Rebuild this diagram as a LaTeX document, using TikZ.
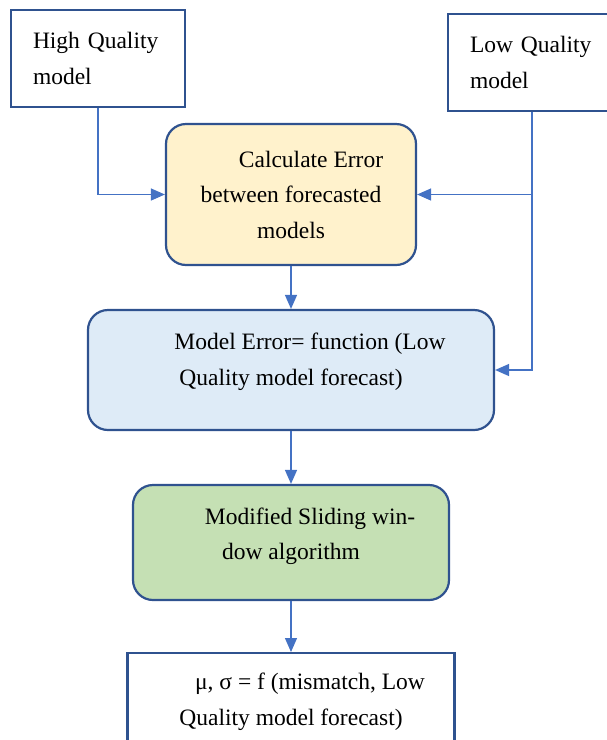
\documentclass[tikz,border=0pt]{standalone}
\usepackage{fontspec}
\setmainfont{LiberationSerif}[Extension=.ttf, UprightFont=*-Regular]
\usetikzlibrary{arrows.meta,positioning}
\definecolor{edge}{HTML}{2F528F}
\definecolor{link}{HTML}{4472C4}
\definecolor{yellowbox}{HTML}{FFF2CC}
\definecolor{bluebox}{HTML}{DEEBF7}
\definecolor{greenbox}{HTML}{C5E0B4}
\tikzset{txt/.style={font=\fontsize{23.5}{35.5}\selectfont}, src/.style={txt, draw=edge, fill=white, line width=2.2pt, align=left, text width=130pt, inner xsep=22pt, minimum height=97pt}, proc/.style={txt, draw=edge, line width=2.2pt, rounded corners=20pt, align=center}, outbox/.style={txt, draw=edge, fill=white, line width=2.2pt, align=center, inner ysep=20pt}, flow/.style={-{Triangle[length=14pt,width=12pt]}, line width=1.3pt, color=link}}

\begin{document}
\begin{tikzpicture}[x=1pt,y=-1pt]
\useasboundingbox (0,0) rectangle (607,740);
\node[src] (hq) at (98,58.5) {High Quality\\model};
\node[src, text width=124pt] (lq) at (532,62.5) {Low Quality\\model};
\node[proc, fill=yellowbox, minimum width=250pt, minimum height=141pt] (calc) at (291,194.5) {\hspace*{40pt}Calculate Error\\between forecasted\\models};
\node[proc, fill=bluebox, minimum width=406pt, minimum height=120pt, text depth=22pt] (merr) at (291,370) {\hspace*{38pt}Model Error= function (Low\\Quality model forecast)};
\node[proc, fill=greenbox, minimum width=316pt, minimum height=115pt, text depth=18pt] (slide) at (291,542.5) {\hspace*{38pt}Modified Sliding win-\\dow algorithm};
\node[outbox, minimum width=327pt, anchor=north] (out) at (291,652) {\hspace*{38pt}μ, σ = f (mismatch, Low\\Quality model forecast)};
% connectors
\draw[flow] (hq.south) |- (calc.west);
\draw[flow] (lq.south) |- (calc.east);
\draw[flow] (lq.south) |- (merr.east);
\draw[flow] (calc) -- (merr);
\draw[flow] (merr) -- (slide);
\draw[flow] (slide) -- (out);
\end{tikzpicture}
\end{document}
